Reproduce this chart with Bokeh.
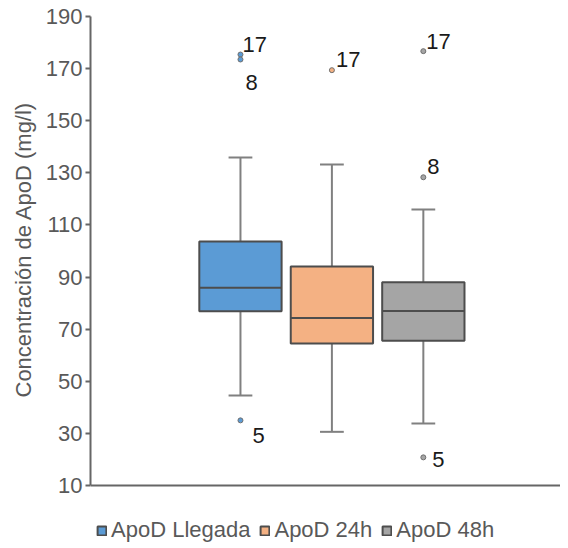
from bokeh.plotting import figure
from bokeh.models import Range1d, FixedTicker, ColumnDataSource, Legend, LegendItem, Span, Title
from bokeh.embed import file_html
from bokeh.resources import INLINE
from bokeh.core.properties import value

# ---- data ----
groups = ["ApoD Llegada", "ApoD 24h", "ApoD 48h"]
lower_whisker = [44.5, 30.6, 33.8]
q1 = [76.9, 64.5, 65.6]
median = [85.9, 74.3, 77.0]
q3 = [103.6, 94.1, 88.0]
upper_whisker = [135.9, 133.2, 115.9]

out_group = [0, 0, 0, 1, 2, 2, 2]
out_value = [175.4, 173.5, 35.0, 169.4, 176.7, 128.3, 20.8]
out_label = ["17", "8", "5", "17", "17", "8", "5"]

y_ticks = [10, 30, 50, 70, 90, 110, 130, 150, 170, 190]
y_label = "Concentración de ApoD (mg/l)"

# ---- styles ----
fills = ["#5B9BD5", "#F4B183", "#A5A5A5"]
lab_dx = [2, 5, 12, 4, 3, 4, 9]
lab_dy = [-10, 23, 15, -11, -10, -11, 2]
FONT = "Liberation Sans"
GRAY_TXT = "#595959"
AXIS_C = "#666666"
box_w = 0.9
cap_w = 0.26

# y extends below the axis baseline (10) to host the legend inside the frame
p = figure(width=560, height=544, frame_width=470, frame_height=528,
           min_border_left=90, min_border_right=0, min_border_top=16, min_border_bottom=0,
           output_backend="svg", toolbar_location=None,
           x_range=Range1d(-1.64, 3.5), y_range=Range1d(-12.64, 190))
p.outline_line_color = None
p.grid.visible = False
p.background_fill_color = "white"
p.xaxis.visible = False

xs = list(range(len(groups)))
src = ColumnDataSource(dict(x=xs, lo=lower_whisker, q1=q1, med=median, q3=q3, hi=upper_whisker,
                            fill=fills, name=groups,
                            l=[x - box_w / 2 for x in xs], r=[x + box_w / 2 for x in xs],
                            cl=[x - cap_w / 2 for x in xs], cr=[x + cap_w / 2 for x in xs]))

# whiskers
p.segment(x0="x", y0="q3", x1="x", y1="hi", source=src, line_color="#808080", line_width=2)
p.segment(x0="x", y0="lo", x1="x", y1="q1", source=src, line_color="#808080", line_width=2)
p.segment(x0="cl", y0="hi", x1="cr", y1="hi", source=src, line_color="#808080", line_width=2)
p.segment(x0="cl", y0="lo", x1="cr", y1="lo", source=src, line_color="#808080", line_width=2)

# boxes
renderers = []
for i, g in enumerate(groups):
    r = p.quad(left=[xs[i] - box_w / 2], right=[xs[i] + box_w / 2], bottom=[q1[i]], top=[q3[i]],
               fill_color=fills[i], line_color="#4D4D4D", line_width=2)
    renderers.append(r)
p.segment(x0="l", y0="med", x1="r", y1="med", source=src, line_color="#4D4D4D", line_width=2)

# outliers
osrc = ColumnDataSource(dict(x=[xs[g] for g in out_group], y=out_value, lab=out_label,
                             fill=[fills[g] for g in out_group], dx=lab_dx, dy=lab_dy))
p.scatter(x="x", y="y", source=osrc, size=5, fill_color="fill", line_color="#707070", line_width=1)
p.text(x="x", y="y", text="lab", source=osrc, x_offset="dx", y_offset="dy",
       text_font=value(FONT), text_font_size="22px", text_color="#1A1A1A",
       text_align="left", text_baseline="alphabetic")

# x axis baseline
p.add_layout(Span(location=y_ticks[0], dimension="width", line_color=AXIS_C, line_width=2))

# y axis
ya = p.yaxis[0]
ya.ticker = FixedTicker(ticks=y_ticks)
ya.bounds = (y_ticks[0], y_ticks[-1])
ya.minor_tick_line_color = None
ya.major_tick_out = 5
ya.major_tick_in = 0
ya.major_tick_line_color = AXIS_C
ya.major_tick_line_width = 2
ya.axis_line_color = AXIS_C
ya.axis_line_width = 2
ya.major_label_text_font = FONT
ya.major_label_text_font_size = "22px"
ya.major_label_text_color = GRAY_TXT
ya.major_label_standoff = 3

p.add_layout(Title(text=y_label, align="left", offset=147, standoff=14,
                   text_font=FONT, text_font_size="22px", text_font_style="normal",
                   text_color=GRAY_TXT), "left")

legend = Legend(items=[LegendItem(label=g, renderers=[renderers[i]]) for i, g in enumerate(groups)],
                orientation="horizontal", location=(6, 1),
                glyph_width=11, glyph_height=11, label_standoff=4, spacing=9,
                padding=0, margin=0, border_line_color=None, background_fill_alpha=0,
                label_text_font=FONT, label_text_font_size="22px", label_text_color=GRAY_TXT,
                label_height=22)
p.add_layout(legend, "center")

open("out.html", "w").write(file_html(p, INLINE))
